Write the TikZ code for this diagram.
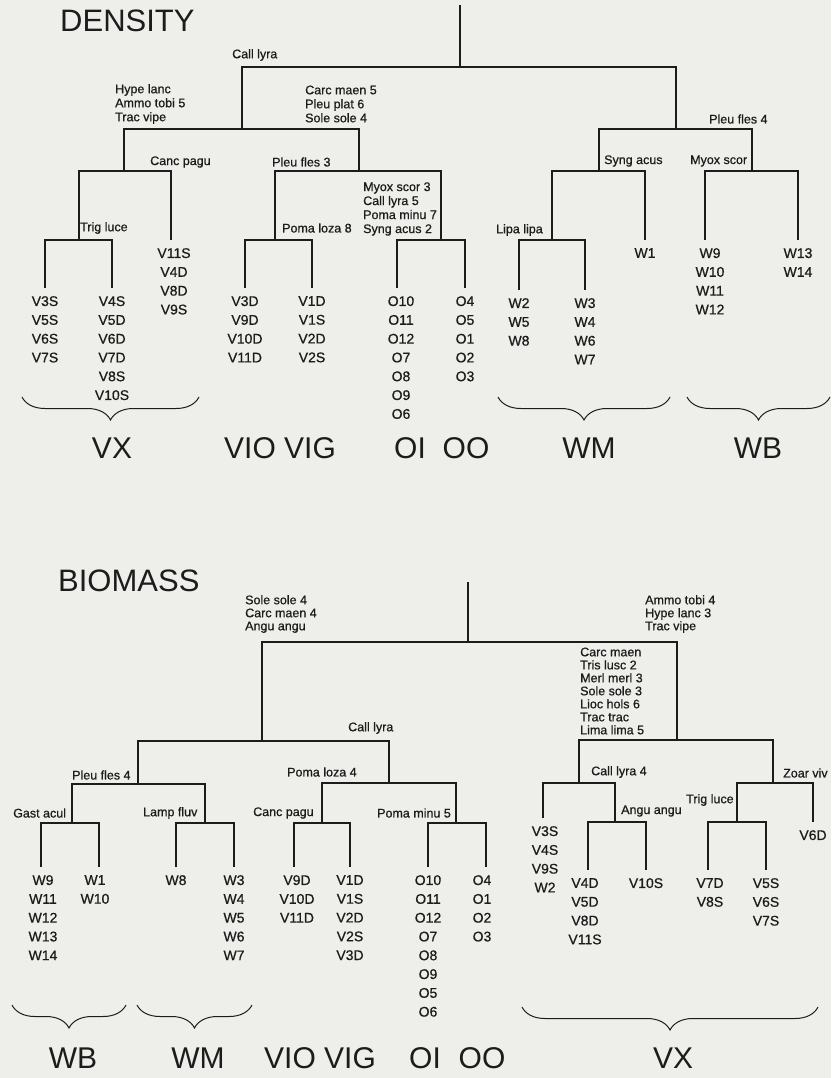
\documentclass[tikz,border=0pt]{standalone}
\usepackage{fontspec}
\setmainfont{Liberation Sans}
\newfontface\heavy{Liberation Sans}[FakeBold=0.7]
\usetikzlibrary{positioning,decorations.pathreplacing}
\definecolor{paper}{RGB}{238,239,234}
\definecolor{ink}{RGB}{28,28,28}

\begin{document}
\begin{tikzpicture}[x=1pt,y=-1pt,
  tree/.style={draw=ink,line width=1.2pt},
  leaf/.style={font=\heavy\fontsize{14}{18.8}\selectfont,align=center,inner sep=0pt,text=ink},
  lab/.style={font=\heavy\fontsize{12.5}{14}\selectfont,align=left,inner sep=0pt,anchor=west,text=ink},
  labb/.style={lab,font=\heavy\fontsize{12.5}{13}\selectfont},
  grp/.style={font=\fontsize{30}{30}\selectfont,inner sep=0pt,text=ink},
  ttl/.style={font=\fontsize{31}{31}\selectfont,inner sep=0pt,anchor=west,text=ink},
  brc/.style={draw=ink,line width=1pt,decorate,decoration={brace,mirror,amplitude=23pt}}]
\fill[paper] (0,0) rectangle (831,1078);
\useasboundingbox (0,0) rectangle (831,1078);

\node[ttl] (tden) at (60,21) {DENSITY};
\node[ttl] (tbio) at (58,581) {BIOMASS};

\coordinate (d) at (460,5);
\coordinate (d0) at (460,67);
\coordinate (d1) at (242,129);
\coordinate (d2) at (676,129);
\coordinate (d11) at (124,171);
\coordinate (d12) at (359,171);
\coordinate (d111) at (79,240);
\coordinate (d121) at (275,240);
\coordinate (d122) at (441,240);
\coordinate (d21) at (599,171);
\coordinate (d22) at (752,171);
\coordinate (d211) at (552,240);
\coordinate (a1) at (45,288);
\coordinate (a2) at (112,288);
\coordinate (a3) at (171,240);
\coordinate (b1) at (245,288);
\coordinate (b2) at (312,288);
\coordinate (c1) at (397,288);
\coordinate (c2) at (465,288);
\coordinate (e1) at (519,290);
\coordinate (e2) at (585,290);
\coordinate (e3) at (645,240);
\coordinate (f1) at (705,240);
\coordinate (f2) at (798,240);

\draw[tree] (d)--(d0);
\draw[tree] (d1) |- (d0) -| (d2);
\draw[tree] (d11) |- (d1) -| (d12);
\draw[tree] (d111) |- (d11) -| (a3);
\draw[tree] (a1) |- (d111) -| (a2);
\draw[tree] (d121) |- (d12) -| (d122);
\draw[tree] (b1) |- (d121) -| (b2);
\draw[tree] (c1) |- (d122) -| (c2);
\draw[tree] (d21) |- (d2) -| (d22);
\draw[tree] (d211) |- (d21) -| (e3);
\draw[tree] (e1) |- (d211) -| (e2);
\draw[tree] (f1) |- (d22) -| (f2);

\node[leaf,below=8pt of a1] (ta1) {V3S\\V5S\\V6S\\V7S};
\node[leaf,below=8pt of a2] (ta2) {V4S\\V5D\\V6D\\V7D\\V8S\\V10S};
\node[leaf,below=8pt of a3,xshift=3pt] (ta3) {V11S\\V4D\\V8D\\V9S};
\node[leaf,below=8pt of b1] (tb1) {V3D\\V9D\\V10D\\V11D};
\node[leaf,below=8pt of b2] (tb2) {V1D\\V1S\\V2D\\V2S};
\node[leaf,below=8pt of c1,xshift=4pt] (tc1) {O10\\O11\\O12\\O7\\O8\\O9\\O6};
\node[leaf,below=8pt of c2] (tc2) {O4\\O5\\O1\\O2\\O3};
\node[leaf,below=8pt of e1] (te1) {W2\\W5\\W8};
\node[leaf,below=8pt of e2] (te2) {W3\\W4\\W6\\W7};
\node[leaf,below=8pt of e3] (te3) {W1};
\node[leaf,below=8pt of f1,xshift=5pt] (tf1) {W9\\W10\\W11\\W12};
\node[leaf,below=8pt of f2] (tf2) {W13\\W14};

\node[lab] (lcl) at (232,55) {Call lyra};
\node[lab] (lhy) at (115,104) {Hype lanc\\Ammo tobi 5\\Trac vipe};
\node[lab] (lca) at (305,104) {Carc maen 5\\Pleu plat 6\\Sole sole 4};
\node[lab] (lcp) at (150,162) {Canc pagu};
\node[lab] (lpf) at (272,162) {Pleu fles 3};
\node[lab] (ltl) at (80,228) {Trig luce};
\node[lab] (lpl) at (282,228) {Poma loza 8};
\node[lab] (lmy) at (363,209) {Myox scor 3\\Call lyra 5\\Poma minu 7\\Syng acus 2};
\node[lab] (lpf4) at (709,119) {Pleu fles 4};
\node[lab] (lsa) at (604,161) {Syng acus};
\node[lab] (lms) at (690,161) {Myox scor};
\node[lab] (lll) at (496,230) {Lipa lipa};

\coordinate (g) at (468,582);
\coordinate (g0) at (468,642);
\coordinate (g1) at (262,741);
\coordinate (g2) at (677,740);
\coordinate (g11) at (138,784);
\coordinate (g12) at (389,783);
\coordinate (g111) at (72,823);
\coordinate (g112) at (205,823);
\coordinate (g121) at (322,823);
\coordinate (g122) at (456,823);
\coordinate (g21) at (579,783);
\coordinate (g212) at (615,822);
\coordinate (g22) at (773,783);
\coordinate (g221) at (737,822);
\coordinate (h1) at (41,867);
\coordinate (h2) at (99,867);
\coordinate (h3) at (176,867);
\coordinate (h4) at (234,867);
\coordinate (h5) at (294,867);
\coordinate (h6) at (350,867);
\coordinate (h7) at (428,867);
\coordinate (h8) at (486,867);
\coordinate (h9) at (543,818);
\coordinate (h10) at (588,870);
\coordinate (h11) at (646,870);
\coordinate (h12) at (708,870);
\coordinate (h13) at (766,870);
\coordinate (h14) at (813,822);

\draw[tree] (g)--(g0);
\draw[tree] (g1) |- (g0) -| (g2);
\draw[tree] (g11) |- (g1) -| (g12);
\draw[tree] (g111) |- (g11) -| (g112);
\draw[tree] (h1) |- (g111) -| (h2);
\draw[tree] (h3) |- (g112) -| (h4);
\draw[tree] (g121) |- (g12) -| (g122);
\draw[tree] (h5) |- (g121) -| (h6);
\draw[tree] (h7) |- (g122) -| (h8);
\draw[tree] (g21) |- (g2) -| (g22);
\draw[tree] (h9) |- (g21) -| (g212);
\draw[tree] (h10) |- (g212) -| (h11);
\draw[tree] (g221) |- (g22) -| (h14);
\draw[tree] (h12) |- (g221) -| (h13);

\node[leaf,below=8pt of h1,xshift=2pt] (th1) {W9\\W11\\W12\\W13\\W14};
\node[leaf,below=8pt of h2,xshift=-4pt] (th2) {W1\\W10};
\node[leaf,below=8pt of h3] (th3) {W8};
\node[leaf,below=8pt of h4] (th4) {W3\\W4\\W5\\W6\\W7};
\node[leaf,below=8pt of h5,xshift=3pt] (th5) {V9D\\V10D\\V11D};
\node[leaf,below=8pt of h6] (th6) {V1D\\V1S\\V2D\\V2S\\V3D};
\node[leaf,below=8pt of h7] (th7) {O10\\O11\\O12\\O7\\O8\\O9\\O5\\O6};
\node[leaf,below=8pt of h8,xshift=-4pt] (th8) {O4\\O1\\O2\\O3};
\node[leaf,below=8pt of h9,xshift=2pt] (th9) {V3S\\V4S\\V9S\\W2};
\node[leaf,below=8pt of h10,xshift=-3pt] (th10) {V4D\\V5D\\V8D\\V11S};
\node[leaf,below=8pt of h11] (th11) {V10S};
\node[leaf,below=8pt of h12,xshift=2pt] (th12) {V7D\\V8S};
\node[leaf,below=8pt of h13] (th13) {V5S\\V6S\\V7S};
\node[leaf,below=8pt of h14] (th14) {V6D};

\node[labb] (mso) at (245,614) {Sole sole 4\\Carc maen 4\\Angu angu};
\node[labb] (mam) at (645,614) {Ammo tobi 4\\Hype lanc 3\\Trac vipe};
\node[labb] (mcm) at (580,691) {Carc maen\\Tris lusc 2\\Merl merl 3\\Sole sole 3\\Lioc hols 6\\Trac trac\\Lima lima 5};
\node[lab] (mcl) at (348,728) {Call lyra};
\node[lab] (mpf) at (72,775) {Pleu fles 4};
\node[lab] (mga) at (13,813) {Gast acul};
\node[lab] (mlf) at (143,813) {Lamp fluv};
\node[lab] (mpl) at (287,772) {Poma loza 4};
\node[lab] (mcp) at (253,813) {Canc pagu};
\node[lab] (mpm) at (377,813) {Poma minu 5};
\node[lab] (mcl4) at (591,772) {Call lyra 4};
\node[lab] (mzv) at (783,773) {Zoar viv};
\node[lab] (maa) at (621,811) {Angu angu};
\node[lab] (mtl) at (686,800) {Trig luce};

\foreach \a/\b/\y in {22/199/397,498/670/397,687/830/397,12/126/1005,137/252/1005,522/818/1007}
  \draw[brc] (\a,\y)--(\b,\y);
\foreach \x/\y/\t/\n in {112/448/VX/gvx,280/448/VIO VIG/gvi,410/448/OI/goi,466/448/OO/goo,589/448/WM/gwm,758/448/WB/gwb,
  73/1058/WB/kwb,198/1058/WM/kwm,320/1058/VIO VIG/kvi,425/1058/OI/koi,482/1058/OO/koo,673/1058/VX/kvx}
  \node[grp] (\n) at (\x,\y) {\t};
\end{tikzpicture}
\end{document}
